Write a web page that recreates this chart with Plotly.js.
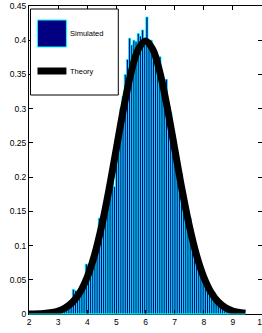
<!DOCTYPE html>
<html>
<head>
<meta charset="utf-8">
<script src="https://cdn.plot.ly/plotly-3.0.1.min.js"></script>
<style>
html,body{margin:0;padding:0;background:#fff;overflow:hidden;}
#chart{width:262px;height:333px;}
</style>
</head>
<body>
<div id="chart"></div>
<script>
// Histogram bins (100 bins from 2 to ~9.43)
var binStart = 2.0;
var binWidth = 0.0743;
var simulated = [
  0,0,0,0,0,0,0,0,0,0,
  0,0,0,0,0.002,0.003,0.004,0.006,0.009,0.012,
  0.036,0.034,0.026,0.030,0.041,0.050,0.073,0.066,0.072,0.083,
  0.090,0.112,0.140,0.128,0.150,0.164,0.172,0.198,0.214,0.186,
  0.240,0.268,0.300,0.318,0.350,0.372,0.403,0.393,0.400,0.398,
  0.410,0.406,0.415,0.403,0.434,0.395,0.400,0.388,0.380,0.371,
  0.376,0.330,0.318,0.343,0.280,0.294,0.250,0.236,0.216,0.198,
  0.205,0.160,0.150,0.142,0.140,0.110,0.090,0.078,0.064,0.058,
  0.050,0.044,0.038,0.035,0.030,0.032,0.020,0.016,0.014,0.010,
  0.008,0.006,0.005,0.004,0.002,0,0,0,0,0
];
// Theory curve
var theoryX = [2, 2.5, 3, 3.25, 3.5, 3.75, 4, 4.25, 4.5, 4.75, 5, 5.25, 5.5, 5.75, 6,
               6.25, 6.5, 6.75, 7, 7.25, 7.5, 7.75, 8, 8.25, 8.5, 8.75, 9, 9.43];
var theoryY = [0.0001, 0.0009, 0.0044, 0.0091, 0.0175, 0.0317, 0.054, 0.0863, 0.1295, 0.1826,
               0.242, 0.3011, 0.3521, 0.3867, 0.3989, 0.3867, 0.3521, 0.3011, 0.242, 0.1826,
               0.1295, 0.0863, 0.054, 0.0317, 0.0175, 0.0091, 0.0044, 0.0011];
var xTicks = [2, 3, 4, 5, 6, 7, 8, 9, 10];
var yTicks = [0, 0.05, 0.1, 0.15, 0.2, 0.25, 0.3, 0.35, 0.4, 0.45];
var legendLabels = ["Simulated", "Theory"];

var binCenters = simulated.map(function(_, i){ return binStart + binWidth*(i+0.5); });
var binEnd = binStart + binWidth*simulated.length;

var xMin = 2, xMax = 10;
var FONT = 'Liberation Sans, Arial, sans-serif';

var traces = [
  {
    type: 'bar', x: binCenters, y: simulated, width: binWidth,
    marker: {color: '#000080', line: {color: '#00FFFF', width: 0.8}},
    name: legendLabels[0], showlegend: false, hoverinfo: 'skip'
  },
  {
    type: 'scatter', mode: 'lines', x: theoryX, y: theoryY,
    line: {color: '#000000', width: 7, shape: 'spline', smoothing: 1},
    name: legendLabels[1], showlegend: false, hoverinfo: 'skip'
  }
];

// legend drawn manually (paper coords)
function px2x(p){ return (p - 28.5)/233.5; }
function py2y(p){ return (314 - p)/308; }

var shapes = [
  {type:'line', xref:'paper', yref:'paper', x0:0, x1:(binEnd-xMin)/(xMax-xMin), y0:0, y1:0,
   line:{color:'#00FFFF', width:1}, layer:'above'},
  {type:'rect', xref:'paper', yref:'paper', x0:px2x(30), x1:px2x(118), y0:py2y(95), y1:py2y(9),
   fillcolor:'#ffffff', line:{color:'#000000', width:1}, layer:'above'},
  {type:'rect', xref:'paper', yref:'paper', x0:px2x(37), x1:px2x(66), y0:py2y(47), y1:py2y(20),
   fillcolor:'#000080', line:{color:'#00FFFF', width:1}, layer:'above'},
  {type:'line', xref:'paper', yref:'paper', x0:px2x(37), x1:px2x(66), y0:py2y(71), y1:py2y(71),
   line:{color:'#000000', width:7}, layer:'above'}
];
var annotations = [
  {xref:'paper', yref:'paper', x:px2x(68), y:py2y(33.5), xanchor:'left', yanchor:'middle',
   text:legendLabels[0], showarrow:false, font:{family:FONT, size:7.5, color:'#000'}},
  {xref:'paper', yref:'paper', x:px2x(68), y:py2y(71), xanchor:'left', yanchor:'middle',
   text:legendLabels[1], showarrow:false, font:{family:FONT, size:7.5, color:'#000'}}
];

var axisCommon = {
  showgrid: false, zeroline: false, showline: true, linecolor: '#000', linewidth: 1,
  mirror: 'allticks', ticks: 'inside', ticklen: 4, tickcolor: '#000', tickwidth: 1,
  tickfont: {family: FONT, size: 8.5, color: '#000'},
  ticklabeloverflow: 'allow', fixedrange: true
};

var layout = {
  width: 262, height: 333,
  margin: {l: 28.5, r: 0, t: 6, b: 19, pad: 0},
  paper_bgcolor: '#ffffff', plot_bgcolor: '#ffffff',
  bargap: 0, showlegend: false,
  font: {family: FONT, size: 8.5, color: '#000'},
  xaxis: Object.assign({}, axisCommon, {range: [xMin, xMax], tickvals: xTicks, ticktext: xTicks.map(String)}),
  yaxis: Object.assign({}, axisCommon, {range: [0, 0.45], tickvals: yTicks, ticktext: yTicks.map(String)}),
  shapes: shapes,
  annotations: annotations
};

Plotly.newPlot('chart', traces, layout, {staticPlot: true, displayModeBar: false});
</script>
</body>
</html>
